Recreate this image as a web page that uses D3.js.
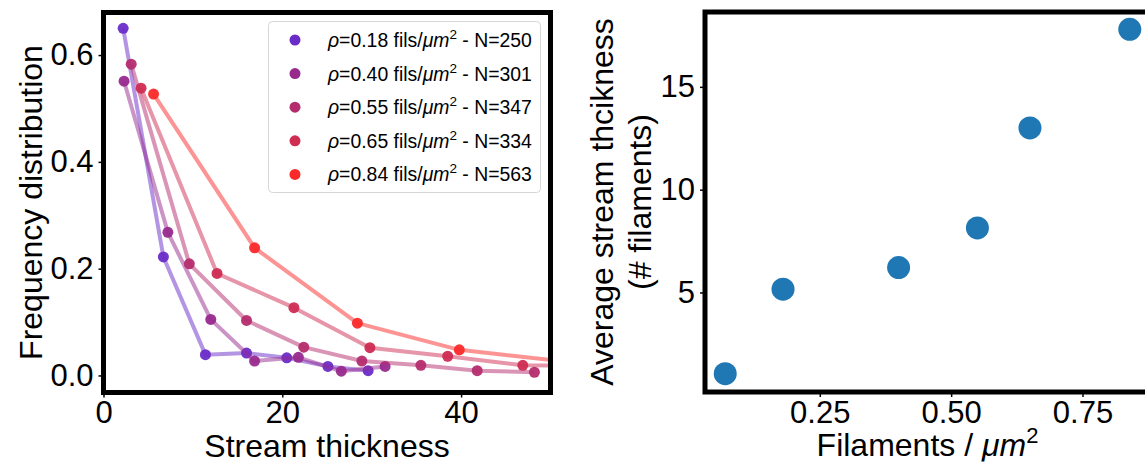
<!DOCTYPE html>
<html>
<head>
<meta charset="utf-8">
<script src="https://cdn.jsdelivr.net/npm/d3@7"></script>
<style>
  body { margin: 0; background: #fff; }
  text { font-family: "Liberation Sans", Arial, sans-serif; fill: #000; }
</style>
</head>
<body>
<div id="main"></div>
<script>
// left panel: stream thickness distributions, one pair of arrays per density
const thick018 = [2.2, 6.7, 11.4, 16.0, 20.5, 25.1, 29.6]
const freq018  = [0.650, 0.222, 0.039, 0.042, 0.033, 0.017, 0.009]
const thick040 = [2.3, 7.2, 12.0, 16.9, 21.8, 26.6, 31.5]
const freq040  = [0.551, 0.268, 0.105, 0.027, 0.034, 0.008, 0.017]
const thick055 = [3.1, 9.6, 16.0, 22.4, 28.9, 35.5, 41.8, 48.2]
const freq055  = [0.583, 0.209, 0.103, 0.053, 0.027, 0.019, 0.009, 0.006]
const thick065 = [4.2, 12.7, 21.3, 29.8, 38.5, 46.9, 55.4]
const freq065  = [0.538, 0.191, 0.127, 0.052, 0.036, 0.019, 0.018]
const thick084 = [5.6, 16.9, 28.4, 39.8, 51.2]
const freq084  = [0.527, 0.239, 0.098, 0.048, 0.027]
const legendLabels = ["0.18", "0.40", "0.55", "0.65", "0.84"]
const legendN = [250, 301, 347, 334, 563]
const seriesColors = ["#6a2cc8", "#982a8e", "#b52c6e", "#cf2c52", "#fb2a2a"]

// right panel: average thickness vs density
const densities = [0.07, 0.18, 0.40, 0.55, 0.65, 0.84]
const avgThick  = [1.05, 5.16, 6.21, 8.14, 13.0, 17.8]

const xTicksL = [0, 20, 40]
const yTicksL = [0.0, 0.2, 0.4, 0.6]
const xTicksR = [0.25, 0.50, 0.75]
const yTicksR = [5, 10, 15]

const W = 1145, H = 475
const svg = d3.select("#main").append("svg")
    .attr("width", W).attr("height", H)

const left = {x0: 103.5, x1: 550.5, y0: 12.5, y1: 392.5}
const right = {x0: 705, x1: 1150, y0: 12, y1: 392}

const sxL = d3.scaleLinear().domain([0, 50]).range([left.x0, left.x1])
const syL = d3.scaleLinear().domain([-0.0319, 0.6797]).range([left.y1, left.y0])
const sxR = d3.scaleLinear().domain([0.0315, 0.8785]).range([right.x0, right.x1])
const syR = d3.scaleLinear().domain([0.16, 18.64]).range([right.y1, right.y0])

svg.append("defs").append("clipPath").attr("id", "clipL")
    .append("rect")
    .attr("x", left.x0).attr("y", left.y0)
    .attr("width", left.x1 - left.x0).attr("height", left.y1 - left.y0)

// ---- left panel
let series = [
    [thick018, freq018], [thick040, freq040], [thick055, freq055],
    [thick065, freq065], [thick084, freq084]
]
let plotL = svg.append("g").attr("clip-path", "url(#clipL)")
let makeLine = d3.line().x(d => sxL(d[0])).y(d => syL(d[1]))
series.forEach((s, idx) => {
    let pts = s[0].map((t, i) => [t, s[1][i]])
    plotL.append("path")
        .attr("d", makeLine(pts))
        .attr("fill", "none")
        .attr("stroke", seriesColors[idx])
        .attr("stroke-opacity", 0.5)
        .attr("stroke-width", 4)
        .attr("stroke-linejoin", "round")
    plotL.append("g").selectAll("circle").data(pts).enter()
        .append("circle")
        .attr("cx", d => sxL(d[0]))
        .attr("cy", d => syL(d[1]))
        .attr("r", 5.5)
        .attr("fill", seriesColors[idx])
        .attr("fill-opacity", 0.95)
})

function styleAxis(g) {
    g.select(".domain").remove()
    g.selectAll(".tick line").attr("stroke", "#000").attr("stroke-width", 1.5)
    g.selectAll(".tick text").style("font-size", "31px")
        .style("font-family", '"Liberation Sans", Arial, sans-serif')
}

svg.append("g")
    .attr("transform", `translate(0, ${left.y1})`)
    .call(d3.axisBottom(sxL).tickValues(xTicksL).tickSize(5).tickFormat(d3.format("d")))
    .call(styleAxis)
    .selectAll(".tick text").attr("y", 30).attr("dy", 0)

svg.append("g")
    .attr("transform", `translate(${left.x0}, 0)`)
    .call(d3.axisLeft(syL).tickValues(yTicksL).tickSize(5).tickPadding(5).tickFormat(d3.format(".1f")))
    .call(styleAxis)

svg.append("rect")
    .attr("x", left.x0).attr("y", left.y0)
    .attr("width", left.x1 - left.x0).attr("height", left.y1 - left.y0)
    .attr("fill", "none").attr("stroke", "#000").attr("stroke-width", 5)

svg.append("text")
    .attr("x", (left.x0 + left.x1) / 2).attr("y", 457)
    .attr("text-anchor", "middle").style("font-size", "32px")
    .text("Stream thickness")

svg.append("text")
    .attr("transform", `translate(41.5, ${(left.y0 + left.y1) / 2}) rotate(-90)`)
    .attr("text-anchor", "middle").style("font-size", "32px")
    .text("Frequency distribution")

// legend
let lg = svg.append("g")
lg.append("rect")
    .attr("x", 268.5).attr("y", 21.5).attr("width", 272).attr("height", 171)
    .attr("rx", 4).attr("fill", "#fff").attr("fill-opacity", 0.8)
    .attr("stroke", "#d6d6d6").attr("stroke-width", 1)
legendLabels.forEach((lab, i) => {
    let cy = 40 + i * 33.6
    lg.append("circle").attr("cx", 295).attr("cy", cy).attr("r", 5.5)
        .attr("fill", seriesColors[i])
    let t = lg.append("text").attr("x", 328).attr("y", cy + 7).style("font-size", "19.4px")
    t.append("tspan").style("font-style", "italic").text("\u03c1")
    t.append("tspan").text(`=${lab} fils/`)
    t.append("tspan").style("font-style", "italic").text("\u03bcm")
    t.append("tspan").attr("dy", -8).style("font-size", "13.5px").text("2")
    t.append("tspan").attr("dy", 8).text(` - N=${legendN[i]}`)
})

// ---- right panel
svg.append("g").selectAll("circle").data(densities).enter()
    .append("circle")
    .attr("cx", d => sxR(d))
    .attr("cy", (d, i) => syR(avgThick[i]))
    .attr("r", 11.5)
    .attr("fill", "#1f77b4")

svg.append("g")
    .attr("transform", `translate(0, ${right.y1})`)
    .call(d3.axisBottom(sxR).tickValues(xTicksR).tickSize(5).tickFormat(d3.format(".2f")))
    .call(styleAxis)
    .selectAll(".tick text").attr("y", 31).attr("dy", 0)

svg.append("g")
    .attr("transform", `translate(${right.x0}, 0)`)
    .call(d3.axisLeft(syR).tickValues(yTicksR).tickSize(5).tickPadding(5).tickFormat(d3.format("d")))
    .call(styleAxis)

svg.append("rect")
    .attr("x", right.x0).attr("y", right.y0)
    .attr("width", right.x1 - right.x0).attr("height", right.y1 - right.y0)
    .attr("fill", "none").attr("stroke", "#000").attr("stroke-width", 5)

let xl = svg.append("text")
    .attr("x", (right.x0 + right.x1) / 2).attr("y", 456)
    .attr("text-anchor", "middle").style("font-size", "32px")
xl.append("tspan").text("Filaments / ")
xl.append("tspan").style("font-style", "italic").text("\u03bcm")
xl.append("tspan").attr("dy", -13).style("font-size", "22px").text("2")

let yl = svg.append("text")
    .attr("transform", `translate(613, ${(right.y0 + right.y1) / 2}) rotate(-90)`)
    .attr("text-anchor", "middle").style("font-size", "32px")
yl.append("tspan").attr("x", 0).attr("y", 0).text("Average stream thcikness")
yl.append("tspan").attr("x", 0).attr("y", 38).text("(# filaments)")
</script>
</body>
</html>
